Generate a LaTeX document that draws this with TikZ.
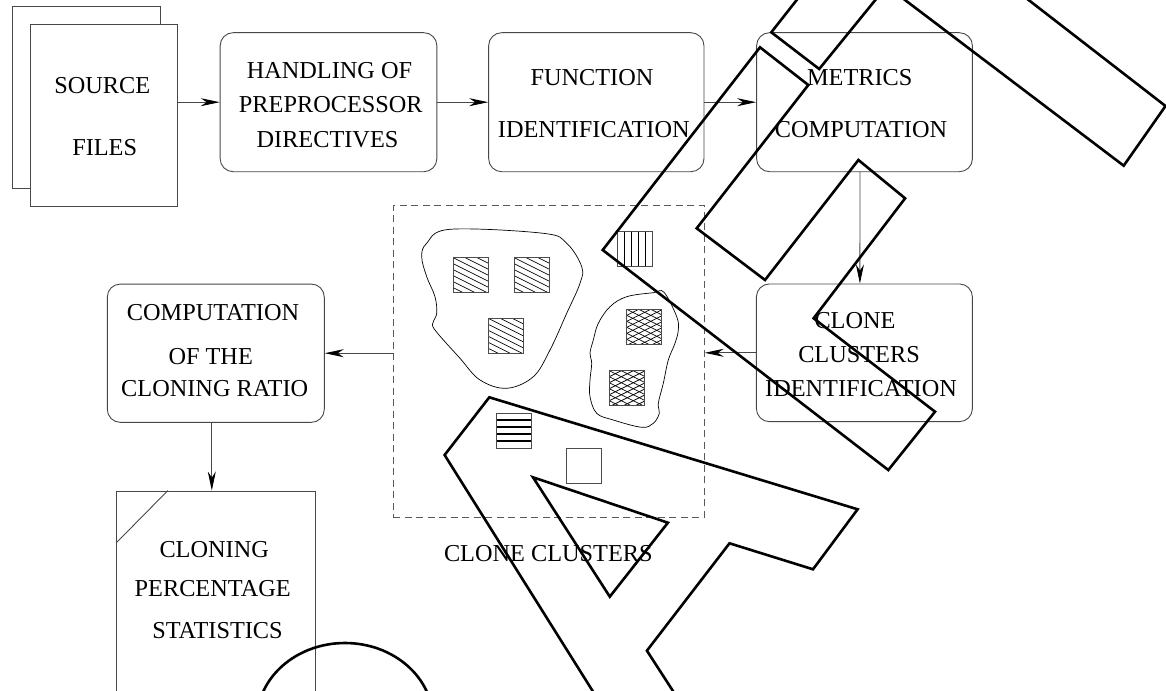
\documentclass[tikz,border=0pt]{standalone}
\usepackage{fontspec}
\setmainfont{Liberation Serif}
\usetikzlibrary{arrows.meta}
\tikzset{
 thinln/.style={draw=black!72, line width=0.9pt},
 box/.style={thinln, rounded corners=13pt, inner sep=0pt},
 doc/.style={thinln, inner sep=0pt},
 arr/.style={draw=black!72, line width=0.9pt, -{Stealth[length=19pt,width=8pt,inset=6pt,color=black]}},
 lbl/.style={inner sep=0pt, anchor=base, font=\fontsize{24.3}{29}\selectfont},
 scrib/.style={draw=black, line width=2.6pt},
 hatchline/.style={line width=0.7pt},
 sqb/.style={draw=black!70, line width=0.9pt},
 blob/.style={draw=black, line width=0.7pt},
}
\newcommand\diagsq[2]{%
 \begin{scope}
 \clip (#1,#2) rectangle ++(35,35);
 \foreach \k in {-3,...,6} {\draw[hatchline] (#1,{#2+6*\k}) -- ++(35,17.5);}
 \end{scope}
 \draw[sqb] (#1,#2) rectangle ++(35,35);}
\newcommand\xhsq[2]{%
 \begin{scope}
 \clip (#1,#2) rectangle ++(35,35);
 \foreach \k in {-3,...,9} {\draw[hatchline] (#1,{#2+6*\k}) -- ++(35,17.5);
   \draw[hatchline] (#1,{#2+6*\k}) -- ++(35,-17.5);}
 \end{scope}
 \draw[sqb] (#1,#2) rectangle ++(35,35);}
\newcommand\vertsq[2]{%
 \foreach \i in {1,...,4} {\draw[line width=1.1pt] ({#1+7*\i},#2) -- ++(0,35);}
 \draw[sqb] (#1,#2) rectangle ++(35,35);}
\newcommand\horsq[2]{%
 \foreach \i in {1,...,4} {\draw[line width=1.8pt] (#1,{#2+7*\i}) -- ++(35,0);}
 \draw[sqb] (#1,#2) rectangle ++(35,35);}
\begin{document}
\begin{tikzpicture}[x=1pt,y=-1pt]
\useasboundingbox (0,0) rectangle (1166,690);
\clip (0,0) rectangle (1166,690);
\fill[white] (0,0) rectangle (1166,690);

% source files
\draw[thinln] (30,188) -- (12.7,188) -- (12.7,6.7) -- (160,6.7) -- (160,24);
\node[doc, minimum width=147pt, minimum height=182.7pt] (src) at (103.5,115.35) {};
\node[box, minimum width=216.7pt, minimum height=139pt] (handle) at (328.5,102.2) {};
\node[box, minimum width=215.3pt, minimum height=139pt] (func) at (596.3,102.2) {};
\node[box, minimum width=215.8pt, minimum height=139pt] (metrics) at (864.5,102.2) {};
\node[box, minimum width=216pt, minimum height=137.7pt] (cci) at (864.4,352.8) {};
\node[draw=black!65, line width=0.9pt, dash pattern=on 7pt off 4.5pt, inner sep=0pt,
      minimum width=311pt, minimum height=311.6pt] (cluster) at (548.8,361.5) {};
\node[box, minimum width=217pt, minimum height=138.3pt] (ratio) at (215.8,353.2) {};
\node[doc, minimum width=199pt, minimum height=269pt] (stats) at (216.2,625.5) {};
\draw[thinln] ([xshift=51.6pt]stats.north west) -- ([yshift=-52.3pt]stats.north west);

% connectors
\draw[arr] (src.east |- handle.west) -- (handle.west);
\draw[arr] (handle.east) -- (func.west);
\draw[arr] (func.east) -- (metrics.west);
\draw[arr] ([xshift=-4.5pt]metrics.south) -- ([xshift=-4.5pt]cci.north);
\draw[arr] (cci.west) -- (cluster.east |- cci.west);
\draw[arr] (cluster.west |- ratio.east) -- (ratio.east);
\draw[arr] ([xshift=-4pt]ratio.south) -- ([xshift=-4pt]ratio.south |- stats.north);

% labels
\node[lbl] (t1) at (102.3,93.3) {SOURCE};
\node[lbl] (t2) at (104.7,155) {FILES};
\node[lbl] (t3) at (329.5,78.3) {HANDLING OF};
\node[lbl] (t4) at (330.8,113) {PREPROCESSOR};
\node[lbl] (t5) at (327.5,147.3) {DIRECTIVES};
\node[lbl] (t6) at (592,85.3) {FUNCTION};
\node[lbl] (t7) at (593.8,137.3) {IDENTIFICATION};
\node[lbl] (t8) at (859.7,85.3) {METRICS};
\node[lbl] (t9) at (861,137.3) {COMPUTATION};
\node[lbl] (t10) at (855,328) {CLONE};
\node[lbl] (t11) at (859,362) {CLUSTERS};
\node[lbl] (t12) at (861,396.3) {IDENTIFICATION};
\node[lbl] (t13) at (213,320.3) {COMPUTATION};
\node[lbl] (t14) at (210.7,364) {OF THE};
\node[lbl] (t15) at (214.7,396.3) {CLONING RATIO};
\node[lbl] (t16) at (214.2,557.3) {CLONING};
\node[lbl] (t17) at (212.7,596.3) {PERCENTAGE};
\node[lbl] (t18) at (217.5,638) {STATISTICS};
\node[lbl] (t19) at (548.3,561.3) {CLONE CLUSTERS};

% clusters
\draw[blob] plot[smooth cycle, tension=0.6] coordinates {(450,229.3) (543.3,233.3) (566.7,243.3) (581.7,266.7) (580,283.3) (566.7,313.3) (550,350) (533.3,376.7) (506.7,388.3) (480,380) (460,358.3) (435,330) (433.3,321.7) (436.7,313.3) (435,296.7) (426.7,276.7) (421.7,256.7) (426.7,243.3)};
\draw[blob] plot[smooth cycle, tension=0.6] coordinates {(653.3,292.7) (664,292.3) (676.7,316.7) (678.3,330) (675,343.3) (668.3,360) (663.3,383.3) (658.3,403.3) (659.3,413.3) (653.3,423.3) (641.7,427.3) (613.3,420) (596.7,413.3) (590,396.7) (590,380) (591.7,363.3) (590,353.3) (593.3,340) (598.3,323.3) (610,306.7) (626.7,296.7)};
\diagsq{453.3}{257.7}
\diagsq{514.3}{257.7}
\diagsq{488.3}{318.3}
\xhsq{626.7}{309.3}
\xhsq{609.3}{370.7}
\vertsq{617.3}{231.3}
\horsq{496.7}{413.3}
\draw[sqb] (566,448.3) rectangle ++(35,35);

% overlay scribbles
\draw[scrib] (602.7,250) -- (760,47.3) -- (808.3,85) -- (696.7,228.3) -- (765,280) -- (858.4,160) -- (905.1,198.3) -- (813.6,318.3) -- (935,411.7) -- (888.3,470) -- cycle;
\draw[scrib] (836,-50) -- (771.3,32.3) -- (819.2,69) -- (916,-50);
\draw[scrib] (839,-50) -- (1123.7,165.7) -- (1165.5,106) -- (964,-50);
\draw[scrib] (598.3,700) -- (444.6,455) -- (489.3,397.3) -- (857.6,509.3) -- (813,569.3) -- (729.5,543.3) -- (646.9,650.7) -- (678.8,700);
\draw[scrib] (533,477.3) -- (667.9,522.7) -- (609.8,596.7) -- cycle;
\draw[scrib] (345,720) ellipse [x radius=88pt, y radius=77pt];
\end{tikzpicture}
\end{document}
